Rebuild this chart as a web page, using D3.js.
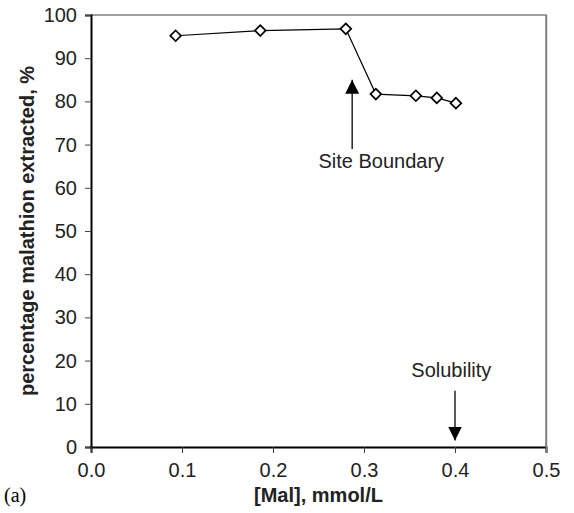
<!DOCTYPE html>
<html>
<head>
<meta charset="utf-8">
<script src="https://cdn.jsdelivr.net/npm/d3@7"></script>
<style>
  body { margin: 0; background: #fff; }
  svg { display: block; font-family: "Liberation Sans", Arial, sans-serif; }
</style>
</head>
<body>
<div id="wrapper"></div>
<script>
// data
const malConc = [0.093, 0.186, 0.280, 0.313, 0.357, 0.380, 0.401]
const pctExtracted = [95.2, 96.4, 96.8, 81.7, 81.3, 80.8, 79.6]
const xTicks = [0, 0.1, 0.2, 0.3, 0.4, 0.5]
const yTicks = [0, 10, 20, 30, 40, 50, 60, 70, 80, 90, 100]
// annotations: label, x value, arrow start value, arrow end value
const notes = [
  { label: "Site Boundary", x: 0.287, from: 69, to: 85 },
  { label: "Solubility", x: 0.4, from: 13, to: 1.5 },
]

function drawChart() {
  const dataset = malConc.map((x, i) => ({ x, y: pctExtracted[i] }))
  const xAccessor = d => d.x
  const yAccessor = d => d.y

  let dimensions = {
    width: 574,
    height: 513,
    margin: { top: 15, right: 28, bottom: 66, left: 91 },
  }
  dimensions.boundedWidth = dimensions.width
      - dimensions.margin.left
      - dimensions.margin.right
  dimensions.boundedHeight = dimensions.height
      - dimensions.margin.top
      - dimensions.margin.bottom

  const wrapper = d3.select("#wrapper")
    .append("svg")
      .attr("width", dimensions.width)
      .attr("height", dimensions.height)

  wrapper.append("defs").append("marker")
      .attr("id", "head")
      .attr("viewBox", "0 0 10 10")
      .attr("refX", 10)
      .attr("refY", 5)
      .attr("markerUnits", "userSpaceOnUse")
      .attr("markerWidth", 14)
      .attr("markerHeight", 14)
      .attr("orient", "auto")
    .append("path")
      .attr("d", "M0,0L10,5L0,10Z")
      .attr("fill", "#000")

  const bounds = wrapper.append("g")
      .attr("transform", `translate(${dimensions.margin.left},${dimensions.margin.top})`)

  const xScale = d3.scaleLinear()
    .domain([0, 0.5])
    .range([0, dimensions.boundedWidth])
  const yScale = d3.scaleLinear()
    .domain([0, 100])
    .range([dimensions.boundedHeight, 0])

  // grey frame on top and right
  bounds.append("path")
      .attr("d", `M0,0H${dimensions.boundedWidth}V${dimensions.boundedHeight}`)
      .attr("fill", "none")
      .attr("stroke", "#808080")
      .attr("stroke-width", 1.5)

  const yAxis = bounds.append("g")
      .call(d3.axisLeft(yScale).tickValues(yTicks).tickSize(6).tickPadding(8))
  const xAxis = bounds.append("g")
      .attr("transform", `translate(0,${dimensions.boundedHeight})`)
      .call(d3.axisBottom(xScale).tickValues(xTicks).tickFormat(d3.format(".1f"))
        .tickSize(6).tickPadding(10))
  ;[xAxis, yAxis].forEach(ax => {
    ax.select(".domain").attr("stroke", "#000").attr("stroke-width", 2)
    ax.selectAll(".tick line").attr("stroke", "#444").attr("stroke-width", 1)
    ax.selectAll(".tick text")
        .attr("fill", "#222")
        .style("font-size", "20px")
        .style("font-family", "Liberation Sans, Arial, sans-serif")
  })
  xAxis.selectAll(".tick").filter(d => d === 0.5).select("line").attr("y1", -dimensions.boundedHeight)
      .attr("stroke", "#808080").attr("stroke-width", 1.5)

  const lineGenerator = d3.line()
    .x(d => xScale(xAccessor(d)))
    .y(d => yScale(yAccessor(d)))
  bounds.append("path")
      .attr("d", lineGenerator(dataset))
      .attr("fill", "none")
      .attr("stroke", "#000")
      .attr("stroke-width", 1.2)

  bounds.selectAll(".pt")
    .data(dataset)
    .join("path")
      .attr("class", "pt")
      .attr("transform", d => `translate(${xScale(xAccessor(d))},${yScale(yAccessor(d))}) rotate(45)`)
      .attr("d", "M-3.8,-3.8H3.8V3.8H-3.8Z")
      .attr("fill", "#fff")
      .attr("stroke", "#000")
      .attr("stroke-width", 1.7)

  // arrows and their labels
  notes.forEach(n => {
    bounds.append("line")
        .attr("x1", xScale(n.x))
        .attr("x2", xScale(n.x))
        .attr("y1", yScale(n.from))
        .attr("y2", yScale(n.to))
        .attr("stroke", "#000")
        .attr("stroke-width", 1.3)
        .attr("marker-end", "url(#head)")
  })
  bounds.append("text")
      .attr("x", xScale(0.319))
      .attr("y", yScale(64.5))
      .attr("text-anchor", "middle")
      .attr("fill", "#222")
      .style("font-size", "20px")
      .text(notes[0].label)
  bounds.append("text")
      .attr("x", xScale(0.396))
      .attr("y", yScale(16.2))
      .attr("text-anchor", "middle")
      .attr("fill", "#222")
      .style("font-size", "20px")
      .text(notes[1].label)

  // axis titles
  wrapper.append("text")
      .attr("x", dimensions.margin.left + xScale(0.25))
      .attr("y", 502)
      .attr("text-anchor", "middle")
      .attr("font-weight", "bold")
      .attr("fill", "#222")
      .style("font-size", "20px")
      .text("[Mal], mmol/L")
  wrapper.append("text")
      .attr("transform", `translate(34,${dimensions.margin.top + yScale(50)}) rotate(-90)`)
      .attr("text-anchor", "middle")
      .attr("font-weight", "bold")
      .attr("fill", "#222")
      .style("font-size", "20px")
      .text("percentage malathion extracted, %")
  wrapper.append("text")
      .attr("x", 4)
      .attr("y", 502)
      .attr("fill", "#000")
      .style("font-family", "Liberation Serif, Times New Roman, serif")
      .style("font-size", "20px")
      .text("(a)")
}

drawChart()
</script>
</body>
</html>
